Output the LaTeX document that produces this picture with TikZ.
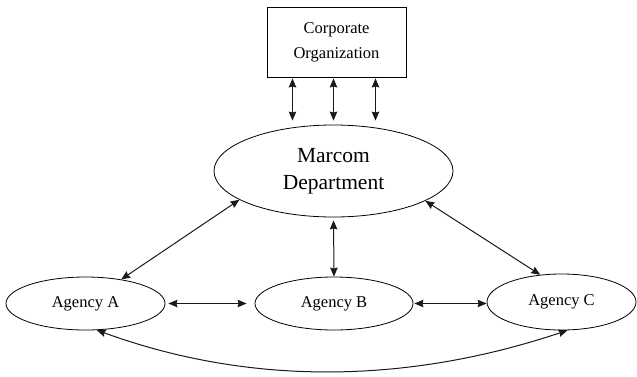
\documentclass[tikz,border=0pt]{standalone}
\usepackage{fontspec}
\setmainfont{Liberation Serif}
\usetikzlibrary{shapes.geometric,arrows.meta}
\begin{document}
\begin{tikzpicture}[x=1pt,y=-1pt,
  tip/.tip={Stealth[length=9pt,width=7.5pt,inset=1pt]},
  dbl/.style={tip-tip, line width=1pt, black!90},
  orgbox/.style={draw, line width=0.9pt, minimum width=139pt, minimum height=70pt,
    inner sep=0pt, align=center, font=\fontsize{16.5}{25}\selectfont},
  oval/.style={draw, ellipse, line width=0.8pt, inner sep=0pt, align=center}]
  \useasboundingbox (0,0) rectangle (637,376);

  % boxes and ovals
  \node[orgbox] (org) at (336.5,42) {Corporate\\Organization};
  \node[oval, minimum width=239pt, minimum height=92pt,
        font=\fontsize{21.5}{27}\selectfont] (mkt) at (333.5,171) {Marcom\\Department};
  \node[oval, minimum width=159pt, minimum height=53pt,
        font=\fontsize{16.5}{20}\selectfont] (ag_a) at (85.5,303.5) {Agency A};
  \node[oval, minimum width=158pt, minimum height=53pt,
        font=\fontsize{16.5}{20}\selectfont] (ag_b) at (334,303.5) {Agency B};
  \node[oval, minimum width=149pt, minimum height=56pt,
        font=\fontsize{16.5}{20}\selectfont] (ag_c) at (561.5,302) {Agency C};

  % links between the organization and the department
  \foreach \dx in {-41,0,42}
    \draw[dbl, shorten <=1pt, shorten >=4pt]
      ([xshift=\dx pt]mkt.north |- org.south) -- ([xshift=\dx pt]mkt.north);

  % department to agencies
  \draw[dbl] (mkt.197.8) -- (ag_a.34);
  \draw[dbl, shorten <=3pt] (mkt.south) -- (ag_b.north);
  \draw[dbl] (mkt.342.2) -- (ag_c.128.5);

  % agency to agency
  \draw[dbl, shorten <=3pt, shorten >=8pt] (ag_a.east) -- (ag_b.west);
  \draw[dbl, shorten <=1pt] (ag_b.east) -- (ag_b.east -| ag_c.west);
  \draw[dbl] (ag_a.293.4) .. controls (250,386) and (407,384) .. (ag_c.282);
\end{tikzpicture}
\end{document}
